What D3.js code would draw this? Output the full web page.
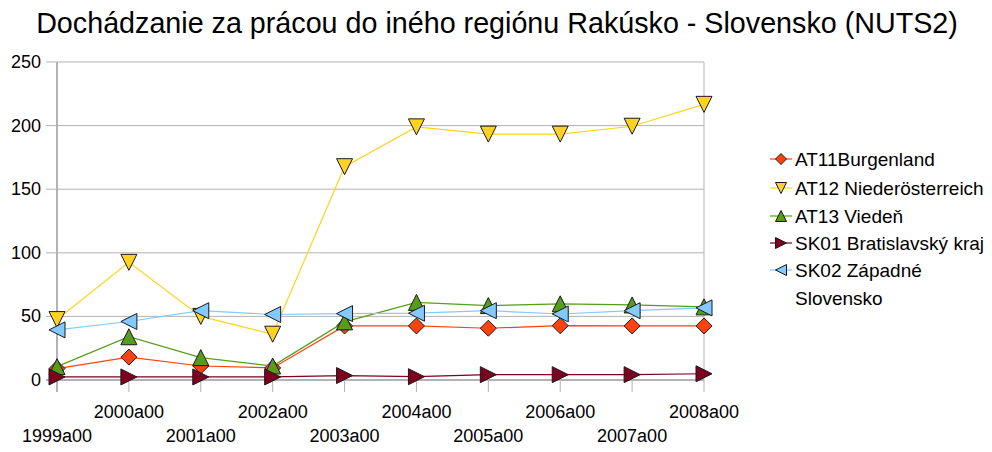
<!DOCTYPE html>
<html><head><meta charset="utf-8">
<script src="https://cdn.jsdelivr.net/npm/d3@7/dist/d3.min.js"></script>
<style>body{margin:0;background:#fff;} text{font-family:"Liberation Sans",Arial,sans-serif;fill:#000;}</style>
</head><body><svg id="c" width="992" height="452"></svg>
<script>
const title = "Dochádzanie za prácou do iného regiónu Rakúsko - Slovensko (NUTS2)";
const categories = ["1999a00","2000a00","2001a00","2002a00","2003a00","2004a00","2005a00","2006a00","2007a00","2008a00"];
const yTicks = [0,50,100,150,200,250];
const seriesNames = ["AT11Burgenland","AT12 Niederösterreich","AT13 Viedeň","SK01 Bratislavský kraj","SK02 Západné Slovensko"];
const at11 = [9, 18, 11, 9.5, 42.5, 42.5, 40.7, 42.7, 42.5, 42.5];
const at12 = [47.5, 92.5, 50, 36, 167.7, 199, 193.3, 193.3, 199.5, 216.7];
const at13 = [10.5, 34, 17.6, 11, 45.7, 61, 58.5, 59.9, 59, 57.5];
const sk01 = [2.4, 2.4, 2.4, 2.4, 3.5, 2.6, 4.2, 4.2, 4.2, 4.9];
const sk02 = [39.4, 46, 54.5, 51.5, 52.2, 52.5, 54.5, 51.9, 54.5, 56.7];
const seriesValues = [at11, at12, at13, sk01, sk02];
const colors = ["#ff420e","#ffd320","#579d1c","#7e0021","#83caff"];
const shapes = ["diamond","down","up","right","left"];

const svg = d3.select("#c");
const x = d3.scalePoint().domain(categories).range([57, 704]);
const y = d3.scaleLinear().domain([0,250]).range([380, 62]);
const grid = "#b3b3b3";

svg.append("text").attr("x", 497).attr("y", 33).attr("text-anchor","middle")
  .style("font-size","28.7px").text(title);

svg.append("g").selectAll("line").data(yTicks).join("line")
  .attr("x1", 46).attr("x2", 704).attr("y1", d=>y(d)).attr("y2", d=>y(d))
  .attr("stroke", grid).attr("stroke-width", d=> d===0 ? 2 : 1);
svg.append("g").selectAll("text").data(yTicks).join("text")
  .attr("x", 41).attr("y", d=>y(d)+6).attr("text-anchor","end")
  .style("font-size","18px").text(d=>d);
svg.append("line").attr("x1",x(categories[0])).attr("x2",x(categories[0]))
  .attr("y1",y(250)).attr("y2",392).attr("stroke",grid).attr("stroke-width",2);
svg.append("line").attr("x1",x(categories[9])).attr("x2",x(categories[9]))
  .attr("y1",y(250)).attr("y2",392).attr("stroke",grid).attr("stroke-width",1);
svg.append("g").selectAll("line").data(categories.slice(1,9)).join("line")
  .attr("x1", d=>x(d)).attr("x2", d=>x(d)).attr("y1", y(0)).attr("y2", 392)
  .attr("stroke", grid).attr("stroke-width", 1);
svg.append("g").selectAll("text").data(categories).join("text")
  .attr("x", d=>x(d)).attr("y", (d,i)=> i%2===0 ? 442 : 418).attr("text-anchor","middle")
  .style("font-size","18px").text(d=>d);

function symPath(shape, s){
  const h = s/2;
  switch(shape){
    case "diamond": return `M0,${-h}L${h},0L0,${h}L${-h},0Z`;
    case "up": return `M0,${-h}L${h},${h}L${-h},${h}Z`;
    case "down": return `M0,${h}L${h},${-h}L${-h},${-h}Z`;
    case "right": return `M${h},0L${-h},${-h}L${-h},${h}Z`;
    case "left": return `M${-h},0L${h},${-h}L${h},${h}Z`;
  }
}

const line = d3.line().x((d,i)=>x(categories[i])).y(d=>y(d));
seriesValues.forEach((vals, si)=>{
  const g = svg.append("g");
  g.append("path").attr("d", line(vals)).attr("fill","none")
    .attr("stroke", colors[si]).attr("stroke-width", 1.2);
  g.selectAll("path.m").data(vals).join("path").attr("class","m")
    .attr("transform",(d,i)=>`translate(${x(categories[i])},${y(d)})`)
    .attr("d", symPath(shapes[si], 16))
    .attr("fill", colors[si]).attr("stroke","#1a1a1a").attr("stroke-width",1);
});

const lg = svg.append("g");
const rows = [166, 195, 223, 250, 277];
seriesNames.forEach((n, si)=>{
  const yy = rows[si] - 7;
  lg.append("line").attr("x1",770).attr("x2",792).attr("y1",yy).attr("y2",yy)
    .attr("stroke",colors[si]).attr("stroke-width",1.2);
  lg.append("path").attr("transform",`translate(781,${yy})`).attr("d",symPath(shapes[si],11))
    .attr("fill",colors[si]).attr("stroke","#1a1a1a").attr("stroke-width",1);
  const t = lg.append("text").attr("x",795).attr("y",rows[si]).style("font-size","19px");
  if (si===4){
    t.append("tspan").text("SK02 Západné");
    t.append("tspan").attr("x",795).attr("dy",28).text("Slovensko");
  } else t.text(n);
});
</script></body></html>
